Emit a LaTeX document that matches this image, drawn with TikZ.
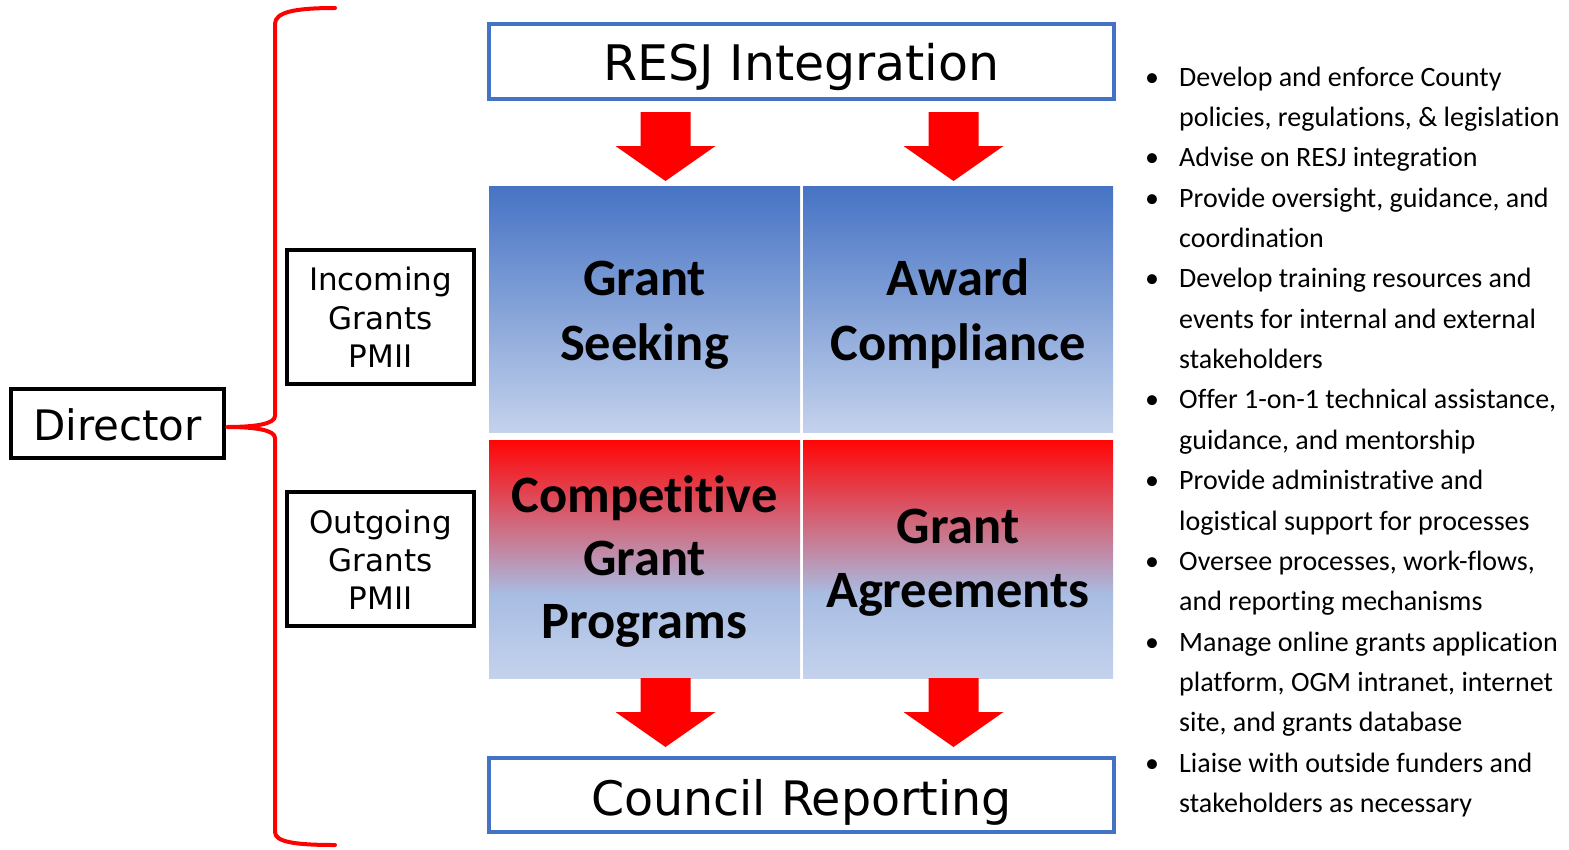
\documentclass[tikz,border=0pt]{standalone}
\usepackage{fontspec}
\setmainfont{Carlito}[RawFeature={-liga;-clig;-calt;-dlig;-rlig}]
\newfontfamily\verd{DejaVu Sans}
\newcommand\tisep{\kern0pt}
\definecolor{blueline}{HTML}{4472C4}
\definecolor{qblue}{HTML}{4673C4}
\definecolor{qlight}{HTML}{C4D2EC}
\definecolor{qmid}{HTML}{A8BDE3}
\definecolor{qred}{HTML}{FF0505}
\definecolor{arrred}{HTML}{FF0000}
\pgfdeclareverticalshading{blueq}{100bp}{color(0bp)=(qlight); color(25bp)=(qlight); color(75bp)=(qblue); color(100bp)=(qblue)}
\pgfdeclareverticalshading{redq}{100bp}{color(0bp)=(qlight); color(25bp)=(qlight); color(42.5bp)=(qmid); color(75bp)=(qred); color(100bp)=(qred)}
\begin{document}
\begin{tikzpicture}[x=1pt,y=-1pt,
  blk/.style={draw=black,line width=4pt,fill=white,inner sep=0pt},
  blu/.style={draw=blueline,line width=4pt,fill=white,inner sep=0pt},
  quad/.style={inner sep=0pt,draw=none,shade},
  small/.style={font=\verd\fontsize{31}{38}\selectfont,anchor=base,inner sep=0pt},
  big/.style={font=\bfseries\fontsize{52.5}{63}\selectfont,anchor=base,inner sep=0pt},
  item/.style={font=\fontsize{28}{34}\selectfont,anchor=base west,inner sep=0pt},
  dotitem/.style={font=\fontsize{28}{34}\selectfont,anchor=base,inner sep=0pt},
  arrfill/.style={fill=arrred,draw=none},
  brace/.style={draw=arrred,line width=4pt,line cap=round,line join=round},
  downarrow/.pic={\fill[arrfill] (-25,0) -- (25,0) -- (25,34) -- (50,34) -- (0,69) -- (-50,34) -- (-25,34) -- cycle;}
]
\useasboundingbox (0,0) rectangle (1569,849);

% Director and brace
\node[blk,minimum width=213,minimum height=69,font=\verd\fontsize{42}{50}\selectfont,text height=33pt,text depth=0pt] (dir) at (117.5,423.5) {Director};
\coordinate (tip) at (227,427);
\draw[brace] (335,8) .. controls (295,8) and (275,12) .. (275,24) -- (275,416)
  .. controls (275,424) and (255,427) .. (tip)
  .. controls (255,427) and (275,430) .. (275,438) -- (275,832)
  .. controls (275,842) and (295,845) .. (335,845);

% Incoming / Outgoing
\node[blk,minimum width=187,minimum height=134] (inc) at (380.5,317) {};
\node[small] (inc1) at (380.5,290) {Incoming};
\node[small] (inc2) at (380.5,329) {Grants};
\node[small] (inc3) at (380.5,367) {PMII};
\node[blk,minimum width=187,minimum height=134] (out) at (380.5,559) {};
\node[small] (out1) at (380.5,533) {Outgoing};
\node[small] (out2) at (380.5,571) {Grants};
\node[small] (out3) at (380.5,609) {PMII};

% Top and bottom blue boxes
\node[blu,minimum width=625,minimum height=75,font=\verd\fontsize{49}{58}\selectfont,text height=37pt,text depth=0pt] (resj) at (801.5,61.5) {RESJ Integration};
\node[blu,minimum width=625,minimum height=74,font=\verd\fontsize{47.5}{56}\selectfont,text height=40pt,text depth=0pt] (council) at (801.5,795) {Council Reporting};

% Quadrants
\node[quad,shading=blueq,minimum width=311,minimum height=246] (q1) at (644.5,309) {};
\node[quad,shading=blueq,minimum width=310,minimum height=246] (q2) at (958,309) {};
\node[quad,shading=redq,minimum width=311,minimum height=238] (q3) at (644.5,559) {};
\node[quad,shading=redq,minimum width=310,minimum height=238] (q4) at (958,559) {};

\node[big] (t1a) at (644.5,295) {Grant};
\node[big] (t1b) at (644.5,360) {Seeking};
\node[big] (t2a) at (958,295) {Award};
\node[big] (t2b) at (958,360) {Compliance};
\node[big] (t3a) at (644.5,512) {Compet\tisep it\tisep ive};
\node[big] (t3b) at (644.5,575) {Grant};
\node[big] (t3c) at (644.5,638) {Programs};
\node[big] (t4a) at (958,543) {Grant};
\node[big] (t4b) at (958,607) {Agreements};

% Block arrows
\pic at (665.5,112) {downarrow};
\pic at (953.5,112) {downarrow};
\pic at (665.5,678) {downarrow};
\pic at (953.5,678) {downarrow};

% Bullet list
\foreach \k/\t in {0/{Develop and enforce County},
  1/{policies, regulat\tisep ions, \& legislat\tisep ion},
  2/{Advise on RESJ integration},
  3/{Provide oversight, guidance, and},
  4/{coordinat\tisep ion},
  5/{Develop training resources and},
  6/{events for internal and external},
  7/{stakeholders},
  8/{Of\tisep fer 1-on-1 technical assistance,},
  9/{guidance, and mentorship},
  10/{Provide administrat\tisep ive and},
  11/{logist\tisep ical support for processes},
  12/{Oversee processes, work-f\tisep lows,},
  13/{and reporting mechanisms},
  14/{Manage online grants applicat\tisep ion},
  15/{platform, OGM intranet, internet},
  16/{site, and grants database},
  17/{Liaise with outside funders and},
  18/{stakeholders as necessary}}
  \node[item] (l\k) at (1179,{86+40.37*\k}) {\t};
\foreach \k in {0,2,3,5,8,10,12,14,17}
  \node[dotitem] (b\k) at (1152,{86+40.37*\k}) {\textbullet};
\end{tikzpicture}
\end{document}
